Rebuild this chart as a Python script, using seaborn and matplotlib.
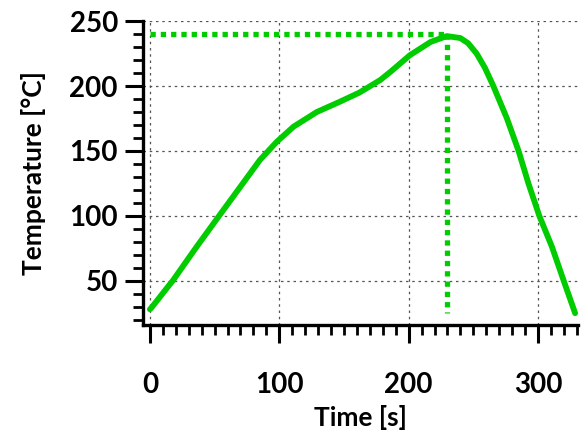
import numpy as np
import pandas as pd
import matplotlib
matplotlib.use("Agg")
import matplotlib.pyplot as plt
import seaborn as sns
from matplotlib.ticker import MultipleLocator

# values
time_s = [0, 1, 18, 36, 54, 70, 85, 98, 111, 129, 147, 162, 178, 186, 201, 217,
          229.5, 240, 246, 252.6, 259, 265.5, 276, 285, 292.6, 301, 310.7,
          319.6, 328.7]
temp_c = [28, 29, 50.5, 76, 100.7, 122.5, 143, 157, 168.7, 180, 188, 195, 204.6,
          211, 223.8, 234, 238.5, 237, 233, 225, 214, 200, 175, 150, 125, 100,
          76.4, 50.8, 25]
peak_time = 230
peak_temp = 240
guide_bottom = 25

df = pd.DataFrame({"Time [s]": time_s, "Temperature [°C]": temp_c})

sns.set_style("white")
plt.rcParams["font.family"] = ["Lato", "DejaVu Sans"]
plt.rcParams["font.weight"] = "bold"
plt.rcParams["text.color"] = "black"
plt.rcParams["axes.labelcolor"] = "black"
plt.rcParams["xtick.color"] = "black"
plt.rcParams["ytick.color"] = "black"

green = "#00cc00"

fig = plt.figure(figsize=(5.81, 4.32), dpi=100)
ax = fig.add_axes([0.246, 0.248, 0.749, 0.703])

sns.lineplot(data=df, x="Time [s]", y="Temperature [°C]", color=green,
             linewidth=4.2, ax=ax, zorder=3)

# dotted guide lines at the peak
ax.plot([0, peak_time], [peak_temp, peak_temp], color=green, linewidth=3.8,
        linestyle=(0, (1, 0.95)), zorder=2)
ax.plot([peak_time, peak_time], [peak_temp, guide_bottom], color=green,
        linewidth=3.8, linestyle=(0, (1, 0.95)), zorder=2)

ax.set_xlim(-5.4, 331)
ax.set_ylim(16, 250)
ax.xaxis.set_major_locator(MultipleLocator(100))
ax.xaxis.set_minor_locator(MultipleLocator(10))
ax.yaxis.set_major_locator(MultipleLocator(50))
ax.yaxis.set_minor_locator(MultipleLocator(10))
ax.set_yticks([50, 100, 150, 200, 250])

ax.grid(True, which="major", color="#555555", linestyle=(0, (2, 3)), linewidth=0.9)

for side in ["top", "right"]:
    ax.spines[side].set_visible(False)
for side in ["left", "bottom"]:
    ax.spines[side].set_linewidth(2.4)
    ax.spines[side].set_color("black")

ax.tick_params(which="major", direction="out", length=13, width=2.2,
               labelsize=20, color="black", labelcolor="black")
ax.tick_params(which="minor", direction="out", length=7, width=2.0, color="black")
ax.tick_params(axis="x", which="major", pad=21)
ax.tick_params(axis="y", which="major", pad=5)
ax.tick_params(left=True, bottom=True)
ax.tick_params(which="minor", left=True, bottom=True)

for lab in ax.get_xticklabels() + ax.get_yticklabels():
    lab.set_fontweight("bold")

ax.set_xlabel("Time [s]", fontsize=19, fontweight="bold", labelpad=5)
ax.set_ylabel("Temperature [°C]", fontsize=19, fontweight="bold", labelpad=17)

fig.savefig("out.png", dpi=100)
